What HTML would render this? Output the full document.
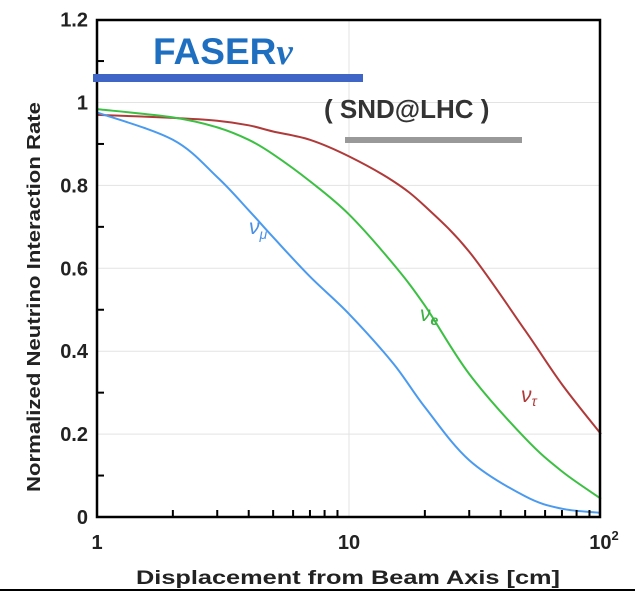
<!DOCTYPE html>
<html><head><meta charset="utf-8"><style>
body{margin:0;background:#fff;}
svg text{font-family:"Liberation Sans",sans-serif;}
</style></head><body>
<svg id="c" width="635" height="597" xmlns="http://www.w3.org/2000/svg">
<rect width="635" height="597" fill="#fff"/>
<g id="grid"></g>
<g id="series"></g>
<rect x="97" y="20" width="503" height="497" fill="none" stroke="#000" stroke-width="2.5"/>
<g id="ticks"></g>
<text x="136" y="584" font-size="19" font-weight="bold" fill="#222" textLength="424" lengthAdjust="spacingAndGlyphs">Displacement from Beam Axis [cm]</text>
<text transform="translate(40,492) rotate(-90)" font-size="18" font-weight="bold" fill="#222" textLength="390" lengthAdjust="spacingAndGlyphs">Normalized Neutrino Interaction Rate</text>
<text x="153" y="64" font-size="37" font-weight="bold" fill="#1f6fc0">FASER<tspan font-family="Liberation Serif" font-style="italic">ν</tspan></text>
<rect x="93" y="74" width="270" height="8" fill="#3f66c6"/>
<text x="324" y="118" font-size="26" font-weight="bold" fill="#333">( SND@LHC )</text>
<rect x="345" y="137" width="177" height="6" fill="#999"/>
<text x="249" y="234" font-size="21" font-style="italic" fill="#4a90e8" font-family="Liberation Serif">ν<tspan font-size="14" dy="5">μ</tspan></text>
<text x="420" y="321" font-size="21" font-style="italic" fill="#3cb043" font-family="Liberation Serif">ν<tspan font-size="14" dy="4" font-family="Liberation Sans" font-weight="bold">e</tspan></text>
<text x="521" y="402" font-size="21" font-style="italic" fill="#b03a3a" font-family="Liberation Serif">ν<tspan font-size="14" dy="4">τ</tspan></text>
<rect x="0" y="589" width="635" height="2" fill="#000"/>
</svg>
<script>
const xs=[1,2,3,4,5,7,10,15,20,30,50,70,100];
const numu=[0.976,0.91,0.82,0.74,0.675,0.58,0.49,0.37,0.265,0.137,0.05,0.02,0.01];
const nue=[0.984,0.964,0.94,0.91,0.875,0.81,0.73,0.61,0.51,0.345,0.19,0.11,0.044];
const nutau=[0.97,0.963,0.956,0.945,0.93,0.91,0.87,0.81,0.75,0.64,0.45,0.32,0.20];
const yTicks=[0,0.2,0.4,0.6,0.8,1,1.2];
const yTickLabels=["0","0.2","0.4","0.6","0.8","1","1.2"];
const X=v=>97+252*Math.log10(v);
const Y=v=>517-414.5*v;
const NS="http://www.w3.org/2000/svg";
function mk(t,a,p){const e=document.createElementNS(NS,t);for(const k in a)e.setAttribute(k,a[k]);p.appendChild(e);return e;}
const grid=document.getElementById('grid'),ticks=document.getElementById('ticks'),ser=document.getElementById('series');
yTicks.forEach((v,i)=>{
 if(v>0&&v<1.2){const g=mk('line',{x1:97,x2:600,y1:Y(v),y2:Y(v),stroke:'#e3e3e3'},grid);
 
 }
 const t=mk('text',{x:88,y:Y(v)+7,'font-size':20,'font-weight':'bold','text-anchor':'end',fill:'#222'},ticks);
 t.textContent=yTickLabels[i];
 
 
 if(i<yTicks.length-1){const m=mk('line',{x1:97,x2:104,y1:Y(v+0.1),y2:Y(v+0.1),stroke:'#000','stroke-width':2},ticks);
 
 }
});
const gv=mk('line',{x1:X(10),x2:X(10),y1:20,y2:517,stroke:'#e3e3e3'},grid);


for(let d=1;d<=10;d*=10)for(let k=2;k<=9;k++){
 const l=mk('line',{x1:X(d*k),x2:X(d*k),y1:517,y2:510,stroke:'#000','stroke-width':2},ticks);
 
 }
[[1,"1"],[10,"10"]].forEach(([v,s])=>{const t=mk('text',{x:X(v),y:549,'font-size':20,'font-weight':'bold','text-anchor':'middle',fill:'#222'},ticks);t.textContent=s;
 
 });
const t2=mk('text',{x:X(100)+3,y:549,'font-size':20,'font-weight':'bold','text-anchor':'middle',fill:'#222'},ticks);
t2.innerHTML='10<tspan font-size="13" dy="-9">2</tspan>';


function path(vals){const p=xs.map((x,i)=>[X(x),Y(vals[i])]);let d='M'+p[0];for(let i=0;i<p.length-1;i++){const p0=p[i-1]||p[i],p1=p[i],p2=p[i+1],p3=p[i+2]||p2;d+=' C'+(p1[0]+(p2[0]-p0[0])/6)+','+(p1[1]+(p2[1]-p0[1])/6)+' '+(p2[0]-(p3[0]-p1[0])/6)+','+(p2[1]-(p3[1]-p1[1])/6)+' '+p2;}return d;}
[[nutau,'#b03a3a','nu-tau-curve'],[nue,'#3cc043','nu-e-curve'],[numu,'#4a9af0','nu-mu-curve']].forEach(([v,c,n])=>{
 const e=mk('path',{d:path(v),fill:'none',stroke:c,'stroke-width':2},ser);
 
 });
</script>
</body></html>
